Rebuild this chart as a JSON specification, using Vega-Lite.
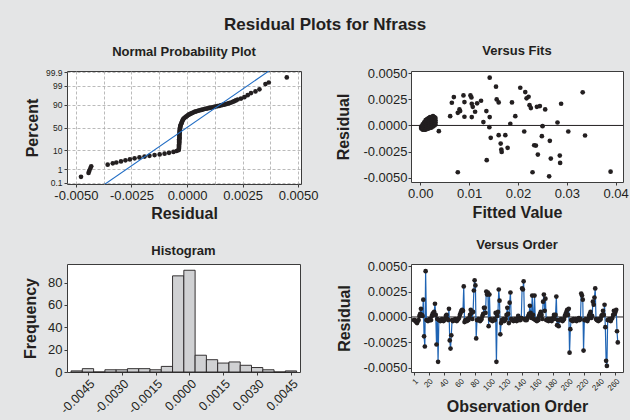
{
  "$schema": "https://vega.github.io/schema/vega-lite/v6.json",
  "background": "#e4e5e6",
  "padding": {"left": 21, "top": 15, "right": 7, "bottom": 5},
  "title": {"text": "Residual Plots for Nfrass", "fontSize": 17, "fontWeight": "bold", "font": "Liberation Sans", "color": "#231f20", "anchor": "middle", "offset": -2, "baseline": "alphabetic"},
  "datasets": {
    "npp": [
      {"r": -0.00477, "z": -2.75}, {"r": -0.00443, "z": -2.53}, {"r": -0.0044, "z": -2.42}, {"r": -0.00435, "z": -2.29}, {"r": -0.00431, "z": -2.16},
      {"r": -0.00357, "z": -2.07}, {"r": -0.00334, "z": -2.0}, {"r": -0.00318, "z": -1.95}, {"r": -0.00297, "z": -1.89}, {"r": -0.00277, "z": -1.83},
      {"r": -0.00257, "z": -1.78}, {"r": -0.00236, "z": -1.72}, {"r": -0.00214, "z": -1.67}, {"r": -0.00191, "z": -1.62}, {"r": -0.00169, "z": -1.58},
      {"r": -0.00146, "z": -1.54}, {"r": -0.00123, "z": -1.5}, {"r": -0.00101, "z": -1.46}, {"r": -0.00081, "z": -1.41}, {"r": -0.00061, "z": -1.36},
      {"r": -0.00047, "z": -1.31},
      {"r": -0.00037, "z": -1.26}, {"r": -0.00037, "z": -1.2}, {"r": -0.00036, "z": -1.14}, {"r": -0.00036, "z": -1.08}, {"r": -0.00036, "z": -1.02},
      {"r": -0.00036, "z": -0.96}, {"r": -0.00035, "z": -0.9}, {"r": -0.00035, "z": -0.84}, {"r": -0.00035, "z": -0.78}, {"r": -0.00035, "z": -0.72},
      {"r": -0.00035, "z": -0.66}, {"r": -0.00034, "z": -0.6}, {"r": -0.00034, "z": -0.54}, {"r": -0.00034, "z": -0.48}, {"r": -0.00034, "z": -0.42},
      {"r": -0.00034, "z": -0.36}, {"r": -0.00033, "z": -0.3}, {"r": -0.00033, "z": -0.24}, {"r": -0.00033, "z": -0.18}, {"r": -0.00032, "z": -0.12},
      {"r": -0.00032, "z": -0.06}, {"r": -0.00031, "z": 0.0}, {"r": -0.0003, "z": 0.06},
      {"r": -0.00029, "z": 0.12}, {"r": -0.00027, "z": 0.18}, {"r": -0.00025, "z": 0.24}, {"r": -0.00023, "z": 0.3}, {"r": -0.00021, "z": 0.36},
      {"r": -0.00019, "z": 0.42}, {"r": -0.00016, "z": 0.48}, {"r": -0.00012, "z": 0.53}, {"r": -0.00008, "z": 0.57}, {"r": -0.00004, "z": 0.61},
      {"r": 0.00001, "z": 0.65}, {"r": 0.00005, "z": 0.69}, {"r": 0.0001, "z": 0.73}, {"r": 0.00015, "z": 0.76}, {"r": 0.0002, "z": 0.79},
      {"r": 0.00025, "z": 0.82}, {"r": 0.0003, "z": 0.85}, {"r": 0.00036, "z": 0.88}, {"r": 0.00042, "z": 0.9}, {"r": 0.00049, "z": 0.93},
      {"r": 0.00056, "z": 0.95}, {"r": 0.00064, "z": 0.98}, {"r": 0.00071, "z": 1.0}, {"r": 0.00078, "z": 1.03}, {"r": 0.00086, "z": 1.05},
      {"r": 0.00094, "z": 1.07}, {"r": 0.00101, "z": 1.09}, {"r": 0.00108, "z": 1.11}, {"r": 0.00115, "z": 1.13}, {"r": 0.00122, "z": 1.15},
      {"r": 0.00129, "z": 1.17}, {"r": 0.00137, "z": 1.19}, {"r": 0.00145, "z": 1.21}, {"r": 0.00152, "z": 1.23}, {"r": 0.0016, "z": 1.26},
      {"r": 0.00168, "z": 1.28}, {"r": 0.00175, "z": 1.3}, {"r": 0.00183, "z": 1.33}, {"r": 0.0019, "z": 1.36}, {"r": 0.00198, "z": 1.39},
      {"r": 0.00206, "z": 1.43}, {"r": 0.00213, "z": 1.47}, {"r": 0.0022, "z": 1.51}, {"r": 0.00228, "z": 1.56}, {"r": 0.00243, "z": 1.61},
      {"r": 0.00258, "z": 1.69}, {"r": 0.00273, "z": 1.8}, {"r": 0.00288, "z": 1.92}, {"r": 0.00308, "z": 2.01}, {"r": 0.00326, "z": 2.13},
      {"r": 0.00353, "z": 2.42}, {"r": 0.00368, "z": 2.51}, {"r": 0.00449, "z": 2.79}
    ],
    "nline": [{"r": -0.00386, "z": -3.3}, {"r": 0.00386, "z": 3.3}],
    "fits": [
      {"f": 0.0002, "r": -0.0003}, {"f": 0.0002, "r": -0.0002}, {"f": 0.0002, "r": -0.0001},
      {"f": 0.0005, "r": -0.0004}, {"f": 0.0005, "r": -0.0003}, {"f": 0.0005, "r": -0.0002}, {"f": 0.0005, "r": 0.0}, {"f": 0.0005, "r": 0.0001},
      {"f": 0.0008, "r": -0.0004}, {"f": 0.0008, "r": -0.0002}, {"f": 0.0008, "r": 0.0}, {"f": 0.0008, "r": 0.0002}, {"f": 0.0008, "r": 0.0003},
      {"f": 0.0011, "r": -0.0004}, {"f": 0.0011, "r": -0.0002}, {"f": 0.0011, "r": 0.0}, {"f": 0.0011, "r": 0.0002}, {"f": 0.0011, "r": 0.0004}, {"f": 0.0011, "r": 0.0005},
      {"f": 0.0014, "r": -0.0003}, {"f": 0.0014, "r": -0.0001}, {"f": 0.0014, "r": 0.0001}, {"f": 0.0014, "r": 0.0003}, {"f": 0.0014, "r": 0.0005}, {"f": 0.0014, "r": 0.0006},
      {"f": 0.0017, "r": -0.0003}, {"f": 0.0017, "r": -0.0001}, {"f": 0.0017, "r": 0.0001}, {"f": 0.0017, "r": 0.0003}, {"f": 0.0017, "r": 0.0005}, {"f": 0.0017, "r": 0.0007},
      {"f": 0.002, "r": -0.0002}, {"f": 0.002, "r": 0.0}, {"f": 0.002, "r": 0.0002}, {"f": 0.002, "r": 0.0004}, {"f": 0.002, "r": 0.0006}, {"f": 0.002, "r": 0.0008},
      {"f": 0.0023, "r": -0.0002}, {"f": 0.0023, "r": 0.0}, {"f": 0.0023, "r": 0.0002}, {"f": 0.0023, "r": 0.0004}, {"f": 0.0023, "r": 0.0006}, {"f": 0.0023, "r": 0.0008},
      {"f": 0.0026, "r": -0.0001}, {"f": 0.0026, "r": 0.0001}, {"f": 0.0026, "r": 0.0003}, {"f": 0.0026, "r": 0.0005}, {"f": 0.0026, "r": 0.0007}, {"f": 0.0026, "r": 0.0009},
      {"f": 0.0029, "r": 0.0}, {"f": 0.0029, "r": 0.0002}, {"f": 0.0029, "r": 0.0004}, {"f": 0.0029, "r": 0.0006}, {"f": 0.0029, "r": 0.0008},
      {"f": 0.0031, "r": 0.0001}, {"f": 0.0031, "r": 0.0003}, {"f": 0.0031, "r": 0.0005}, {"f": 0.0031, "r": 0.0007},
      {"f": 0.0038, "r": -0.00055},
      {"f": 0.00612, "r": 0.00089}, {"f": 0.00646, "r": 0.00217}, {"f": 0.00687, "r": 0.00271}, {"f": 0.00768, "r": 0.00121}, {"f": 0.00802, "r": 0.00153},
      {"f": 0.00816, "r": 0.00137}, {"f": 0.00768, "r": -0.00447}, {"f": 0.00884, "r": 0.00287}, {"f": 0.00904, "r": 0.00223}, {"f": 0.00904, "r": 0.00083},
      {"f": 0.01027, "r": 0.00287}, {"f": 0.01047, "r": 0.00268}, {"f": 0.01054, "r": 0.00207}, {"f": 0.01074, "r": 0.00178}, {"f": 0.01054, "r": 0.0008},
      {"f": 0.01122, "r": 0.00131}, {"f": 0.01163, "r": 0.00211}, {"f": 0.01244, "r": 0.00236}, {"f": 0.01353, "r": 0.00137}, {"f": 0.01292, "r": 0.00032},
      {"f": 0.01421, "r": 0.0008}, {"f": 0.01414, "r": -0.00016}, {"f": 0.01421, "r": 0.00456}, {"f": 0.0136, "r": -0.00332}, {"f": 0.01442, "r": -0.00118},
      {"f": 0.0155, "r": 0.0037}, {"f": 0.01564, "r": 0.00249}, {"f": 0.01605, "r": 0.0022}, {"f": 0.01605, "r": -0.00093}, {"f": 0.01646, "r": -0.00173},
      {"f": 0.01659, "r": -0.0023}, {"f": 0.01666, "r": -0.00253}, {"f": 0.01741, "r": -0.00093}, {"f": 0.01788, "r": -0.00214}, {"f": 0.01843, "r": 0.00016},
      {"f": 0.01877, "r": 0.0022}, {"f": 0.01945, "r": 0.00089}, {"f": 0.02047, "r": 0.0036}, {"f": 0.02128, "r": -0.00058}, {"f": 0.02149, "r": 0.00319},
      {"f": 0.02176, "r": 0.00259}, {"f": 0.02217, "r": 0.00274}, {"f": 0.02237, "r": 0.00194}, {"f": 0.02264, "r": 0.00166}, {"f": 0.02332, "r": -0.00189},
      {"f": 0.02367, "r": -0.00192}, {"f": 0.02298, "r": -0.00447}, {"f": 0.02407, "r": -0.00278}, {"f": 0.02387, "r": 0.00178}, {"f": 0.02448, "r": 0.00185},
      {"f": 0.02503, "r": -0.00007}, {"f": 0.02489, "r": -0.00102}, {"f": 0.02557, "r": 0.00153}, {"f": 0.02652, "r": -0.00147}, {"f": 0.02672, "r": -0.00316},
      {"f": 0.02638, "r": -0.00486}, {"f": 0.02809, "r": 0.00028}, {"f": 0.02856, "r": -0.00288}, {"f": 0.02863, "r": -0.00358}, {"f": 0.02883, "r": 0.00207},
      {"f": 0.0303, "r": -0.00058}, {"f": 0.03325, "r": 0.00316}, {"f": 0.03373, "r": -0.00096}, {"f": 0.03896, "r": -0.00441}
    ],
    "hist": [
      {"lo": -0.00525, "hi": -0.00475, "n": 1}, {"lo": -0.00475, "hi": -0.00425, "n": 3}, {"lo": -0.00425, "hi": -0.00375, "n": 0},
      {"lo": -0.00375, "hi": -0.00325, "n": 2}, {"lo": -0.00325, "hi": -0.00275, "n": 2}, {"lo": -0.00275, "hi": -0.00225, "n": 3},
      {"lo": -0.00225, "hi": -0.00175, "n": 3}, {"lo": -0.00175, "hi": -0.00125, "n": 2}, {"lo": -0.00125, "hi": -0.00075, "n": 5},
      {"lo": -0.00075, "hi": -0.00025, "n": 86}, {"lo": -0.00025, "hi": 0.00025, "n": 91}, {"lo": 0.00025, "hi": 0.00075, "n": 15},
      {"lo": 0.00075, "hi": 0.00125, "n": 11}, {"lo": 0.00125, "hi": 0.00175, "n": 8}, {"lo": 0.00175, "hi": 0.00225, "n": 9},
      {"lo": 0.00225, "hi": 0.00275, "n": 6}, {"lo": 0.00275, "hi": 0.00325, "n": 4}, {"lo": 0.00325, "hi": 0.00375, "n": 2},
      {"lo": 0.00375, "hi": 0.00425, "n": 0}, {"lo": 0.00425, "hi": 0.00475, "n": 1}
    ],
    "order": [
      {"o": 1, "r": -0.0003}, {"o": 2, "r": -0.0003}, {"o": 3, "r": -0.0004}, {"o": 4, "r": -0.0005}, {"o": 5, "r": -0.0006},
      {"o": 6, "r": -0.0004}, {"o": 7, "r": -0.0003}, {"o": 8, "r": 0.0001}, {"o": 9, "r": 0.0003}, {"o": 10, "r": 0.0008},
      {"o": 11, "r": 0.0002}, {"o": 12, "r": 0.0001}, {"o": 13, "r": 0.0017}, {"o": 14, "r": -0.0019}, {"o": 15, "r": -0.0029},
      {"o": 16, "r": 0.0045}, {"o": 17, "r": -0.0003}, {"o": 18, "r": -0.0003}, {"o": 19, "r": -0.0004}, {"o": 20, "r": -0.0003},
      {"o": 21, "r": -0.0002}, {"o": 22, "r": -0.0003}, {"o": 23, "r": -0.0003}, {"o": 24, "r": 0.0001}, {"o": 25, "r": 0.0003},
      {"o": 26, "r": 0.0004}, {"o": 27, "r": 0.0005}, {"o": 28, "r": 0.0013}, {"o": 29, "r": 0.0002}, {"o": 30, "r": -0.0027},
      {"o": 31, "r": -0.0002}, {"o": 32, "r": -0.0044}, {"o": 33, "r": -0.0003}, {"o": 34, "r": -0.0003}, {"o": 35, "r": -0.0004},
      {"o": 36, "r": -0.0003}, {"o": 37, "r": -0.0002}, {"o": 38, "r": -0.0003}, {"o": 39, "r": -0.0004}, {"o": 40, "r": -0.0003},
      {"o": 41, "r": -0.0002}, {"o": 42, "r": 0.0001}, {"o": 43, "r": 0.0002}, {"o": 44, "r": -0.0002}, {"o": 45, "r": -0.0003},
      {"o": 46, "r": 0.0008}, {"o": 47, "r": -0.0023}, {"o": 48, "r": -0.0031}, {"o": 49, "r": -0.0018}, {"o": 50, "r": -0.0003},
      {"o": 51, "r": -0.0004}, {"o": 52, "r": -0.0003}, {"o": 53, "r": -0.0003}, {"o": 54, "r": -0.0002}, {"o": 55, "r": -0.0003},
      {"o": 56, "r": -0.0004}, {"o": 57, "r": -0.0003}, {"o": 58, "r": -0.0002}, {"o": 59, "r": -0.0001}, {"o": 60, "r": 0.0002},
      {"o": 61, "r": 0.0004}, {"o": 62, "r": 0.0006}, {"o": 63, "r": 0.0007}, {"o": 64, "r": 0.0006}, {"o": 65, "r": 0.003},
      {"o": 66, "r": -0.0005}, {"o": 67, "r": -0.0003}, {"o": 68, "r": -0.0003}, {"o": 69, "r": -0.0004}, {"o": 70, "r": -0.0002},
      {"o": 71, "r": -0.0003}, {"o": 72, "r": -0.0001}, {"o": 73, "r": 0.0002}, {"o": 74, "r": 0.0007}, {"o": 75, "r": 0.0004},
      {"o": 76, "r": -0.0002}, {"o": 77, "r": 0.0005}, {"o": 78, "r": 0.0026}, {"o": 79, "r": 0.0036}, {"o": 80, "r": 0.0031},
      {"o": 81, "r": -0.0021}, {"o": 82, "r": -0.0003}, {"o": 83, "r": -0.0003}, {"o": 84, "r": -0.0002}, {"o": 85, "r": -0.0003},
      {"o": 86, "r": -0.0004}, {"o": 87, "r": -0.0003}, {"o": 88, "r": -0.0002}, {"o": 89, "r": 0.0001}, {"o": 90, "r": 0.0003},
      {"o": 91, "r": 0.0009}, {"o": 92, "r": 0.0009}, {"o": 93, "r": 0.0004}, {"o": 94, "r": 0.0025}, {"o": 95, "r": 0.0022},
      {"o": 96, "r": 0.0024}, {"o": 97, "r": -0.0009}, {"o": 98, "r": 0.0022}, {"o": 99, "r": -0.0002}, {"o": 100, "r": -0.0003},
      {"o": 101, "r": -0.0003}, {"o": 102, "r": -0.0004}, {"o": 103, "r": -0.0003}, {"o": 104, "r": -0.0002}, {"o": 105, "r": -0.0003},
      {"o": 106, "r": 0.0004}, {"o": 107, "r": -0.0044}, {"o": 108, "r": 0.0001}, {"o": 109, "r": 0.0005}, {"o": 110, "r": 0.0027},
      {"o": 111, "r": 0.0016}, {"o": 112, "r": -0.0017}, {"o": 113, "r": -0.0006}, {"o": 114, "r": -0.0003}, {"o": 115, "r": -0.0003},
      {"o": 116, "r": -0.0002}, {"o": 117, "r": -0.0004}, {"o": 118, "r": -0.0003}, {"o": 119, "r": -0.0002}, {"o": 120, "r": 0.0002},
      {"o": 121, "r": 0.0009}, {"o": 122, "r": 0.0003}, {"o": 123, "r": -0.0006}, {"o": 124, "r": 0.0014}, {"o": 125, "r": 0.0024},
      {"o": 126, "r": -0.0002}, {"o": 127, "r": -0.0003}, {"o": 128, "r": -0.0003}, {"o": 129, "r": -0.0004}, {"o": 130, "r": -0.0003},
      {"o": 131, "r": -0.0002}, {"o": 132, "r": -0.0003}, {"o": 133, "r": -0.0004}, {"o": 134, "r": -0.0002}, {"o": 135, "r": 0.0001},
      {"o": 136, "r": -0.0003}, {"o": 137, "r": -0.0002}, {"o": 138, "r": -0.0003}, {"o": 139, "r": -0.0001}, {"o": 140, "r": 0.0028},
      {"o": 141, "r": 0.0027}, {"o": 142, "r": 0.0035}, {"o": 143, "r": -0.0002}, {"o": 144, "r": -0.0003}, {"o": 145, "r": -0.0002},
      {"o": 146, "r": -0.0003}, {"o": 147, "r": -0.0001}, {"o": 148, "r": 0.0001}, {"o": 149, "r": 0.0003}, {"o": 150, "r": 0.0011},
      {"o": 151, "r": 0.0004}, {"o": 152, "r": -0.0001}, {"o": 153, "r": 0.0021}, {"o": 154, "r": 0.0002}, {"o": 155, "r": -0.0002},
      {"o": 156, "r": 0.0021}, {"o": 157, "r": -0.0003}, {"o": 158, "r": -0.0003}, {"o": 159, "r": -0.0004}, {"o": 160, "r": -0.0002},
      {"o": 161, "r": -0.0003}, {"o": 162, "r": 0.0001}, {"o": 163, "r": 0.0003}, {"o": 164, "r": 0.0005}, {"o": 165, "r": 0.0002},
      {"o": 166, "r": -0.0002}, {"o": 167, "r": 0.0015}, {"o": 168, "r": 0.0022}, {"o": 169, "r": 0.0006}, {"o": 170, "r": 0.0018},
      {"o": 171, "r": -0.0003}, {"o": 172, "r": -0.0003}, {"o": 173, "r": -0.0002}, {"o": 174, "r": -0.0004}, {"o": 175, "r": -0.0003},
      {"o": 176, "r": -0.0002}, {"o": 177, "r": -0.0003}, {"o": 178, "r": -0.0004}, {"o": 179, "r": -0.0002}, {"o": 180, "r": -0.0001},
      {"o": 181, "r": 0.0002}, {"o": 182, "r": -0.0002}, {"o": 183, "r": 0.0002}, {"o": 184, "r": 0.002}, {"o": 185, "r": -0.0008},
      {"o": 186, "r": -0.0003}, {"o": 187, "r": -0.0009}, {"o": 188, "r": -0.0003}, {"o": 189, "r": -0.0003}, {"o": 190, "r": -0.0002},
      {"o": 191, "r": -0.0003}, {"o": 192, "r": -0.0004}, {"o": 193, "r": -0.0003}, {"o": 194, "r": -0.0002}, {"o": 195, "r": 0.0001},
      {"o": 196, "r": 0.0003}, {"o": 197, "r": 0.0005}, {"o": 198, "r": 0.0007}, {"o": 199, "r": 0.0002}, {"o": 200, "r": 0.0008},
      {"o": 201, "r": -0.0035}, {"o": 202, "r": -0.0012}, {"o": 203, "r": -0.0003}, {"o": 204, "r": -0.0003}, {"o": 205, "r": -0.0004},
      {"o": 206, "r": -0.0002}, {"o": 207, "r": -0.0003}, {"o": 208, "r": -0.0003}, {"o": 209, "r": -0.0002}, {"o": 210, "r": -0.0004},
      {"o": 211, "r": -0.0003}, {"o": 212, "r": -0.0002}, {"o": 213, "r": -0.0001}, {"o": 214, "r": -0.0003}, {"o": 215, "r": -0.0002},
      {"o": 216, "r": 0.0023}, {"o": 217, "r": 0.0021}, {"o": 218, "r": 0.0017}, {"o": 219, "r": -0.0033}, {"o": 220, "r": -0.0003},
      {"o": 221, "r": -0.0003}, {"o": 222, "r": -0.0002}, {"o": 223, "r": -0.0003}, {"o": 224, "r": -0.0004}, {"o": 225, "r": -0.0002},
      {"o": 226, "r": 0.0001}, {"o": 227, "r": 0.0003}, {"o": 228, "r": 0.0005}, {"o": 229, "r": -0.0001}, {"o": 230, "r": 0.0001},
      {"o": 231, "r": 0.0015}, {"o": 232, "r": 0.0012}, {"o": 233, "r": 0.0019}, {"o": 234, "r": 0.0028}, {"o": 235, "r": -0.0002},
      {"o": 236, "r": -0.0003}, {"o": 237, "r": -0.0003}, {"o": 238, "r": -0.0004}, {"o": 239, "r": -0.0002}, {"o": 240, "r": -0.0003},
      {"o": 241, "r": -0.0002}, {"o": 242, "r": 0.0001}, {"o": 243, "r": 0.0002}, {"o": 244, "r": 0.0006}, {"o": 245, "r": 0.0002},
      {"o": 246, "r": 0.0012}, {"o": 247, "r": -0.001}, {"o": 248, "r": -0.0043}, {"o": 249, "r": -0.0048}, {"o": 250, "r": -0.0003},
      {"o": 251, "r": -0.0003}, {"o": 252, "r": -0.0002}, {"o": 253, "r": -0.0003}, {"o": 254, "r": -0.0004}, {"o": 255, "r": -0.0002},
      {"o": 256, "r": -0.0001}, {"o": 257, "r": 0.0002}, {"o": 258, "r": 0.0006}, {"o": 259, "r": 0.0003}, {"o": 260, "r": 0.0005},
      {"o": 261, "r": 0.0007}, {"o": 262, "r": -0.0014}, {"o": 263, "r": -0.0025}
    ],
    "zero": [{"r": 0}]
  },
  "columns": 2,
  "bounds": "flush",
  "spacing": {"row": 80, "column": 110},
  "concat": [
    {
      "width": 234, "height": 113,
      "title": {"text": "Normal Probability Plot", "offset": 9, "frame": "group"},
      "layer": [
        {
          "data": {"name": "npp"},
          "mark": {"type": "circle", "size": 22, "color": "#231f20", "opacity": 1},
          "encoding": {
            "x": {"field": "r", "type": "quantitative", "scale": {"domain": [-0.0054, 0.00513], "nice": false, "zero": false},
              "axis": {"title": "Residual", "titleY": 34, "titleBaseline": "alphabetic", "tickCount": 40,
                "values": [-0.005, -0.00375, -0.0025, -0.00125, 0, 0.00125, 0.0025, 0.00375, 0.005],
                "labelExpr": "abs(datum.value*400-round(datum.value*400))<0.01 ? (datum.value<0?'-':'') + format(abs(datum.value),'.4f') : ''",
                "tickOpacity": {"condition": {"test": "abs(datum.value*400-round(datum.value*400))<0.01", "value": 1}, "value": 0},
                "grid": true, "gridDash": [3, 2], "gridColor": "#a9a9a9", "gridWidth": 0.8}},
            "y": {"field": "z", "type": "quantitative", "scale": {"domain": [-3.15, 3.15], "nice": false, "zero": false},
              "axis": {"title": "Percent", "titleX": -30, "titleBaseline": "alphabetic", "labelFontSize": 8.5, "tickCount": 40,
                "values": [-3.09, -2.326, -1.2816, 0, 1.2816, 2.326, 3.09],
                "labelExpr": "datum.value < -3 ? '0.1' : datum.value < -2 ? '1' : datum.value < -1 ? '10' : datum.value < 1 ? '50' : datum.value < 2 ? '90' : datum.value < 3 ? '99' : '99.9'",
                "grid": true, "gridDash": [3, 2], "gridColor": "#a9a9a9", "gridWidth": 0.8}}
          }
        },
        {
          "data": {"name": "nline"},
          "mark": {"type": "line", "color": "#1f6cc4", "strokeWidth": 1.1, "clip": true},
          "encoding": {
            "x": {"field": "r", "type": "quantitative"},
            "y": {"field": "z", "type": "quantitative"}
          }
        }
      ]
    },
    {
      "width": 212, "height": 111,
      "title": {"text": "Versus Fits", "offset": 9, "frame": "group"},
      "layer": [
        {
          "data": {"name": "zero"},
          "mark": {"type": "rule", "color": "#231f20", "strokeWidth": 1},
          "encoding": {"y": {"field": "r", "type": "quantitative"}}
        },
        {
          "data": {"name": "fits"},
          "mark": {"type": "circle", "size": 22, "color": "#231f20", "opacity": 1},
          "encoding": {
            "x": {"field": "f", "type": "quantitative", "scale": {"domain": [-0.0019, 0.0415], "nice": false, "zero": false},
              "axis": {"title": "Fitted Value", "titleY": 35.5, "titleBaseline": "alphabetic", "tickCount": 40, "values": [0, 0.01, 0.02, 0.03, 0.04], "format": ".2f"}},
            "y": {"field": "r", "type": "quantitative", "scale": {"domain": [-0.0054, 0.0052], "nice": false, "zero": false},
              "axis": {"title": "Residual", "titleX": -62.5, "titleBaseline": "alphabetic", "labelPadding": 1, "tickCount": 40,
                "values": [-0.005, -0.0025, 0, 0.0025, 0.005],
                "labelExpr": "(datum.value<0?'-':'') + format(abs(datum.value),'.4f')"}}
          }
        }
      ]
    },
    {
      "width": 233, "height": 108,
      "title": {"text": "Histogram", "offset": 6.5, "frame": "group"},
      "data": {"name": "hist"},
      "mark": {"type": "bar", "fill": "#d0d1d3", "stroke": "#231f20", "strokeWidth": 0.9},
      "encoding": {
        "x": {"field": "lo", "type": "quantitative", "scale": {"domain": [-0.00543, 0.0049], "nice": false, "zero": false},
          "axis": {"title": null, "tickCount": 40, "values": [-0.0045, -0.003, -0.0015, 0, 0.0015, 0.003, 0.0045], "labelAngle": -45, "labelFontSize": 12.5,
            "labelExpr": "(datum.value<0?'-':'') + format(abs(datum.value),'.4f')"}},
        "x2": {"field": "hi"},
        "y": {"field": "n", "type": "quantitative", "scale": {"domain": [0, 96.6], "nice": false},
          "axis": {"title": "Frequency", "titleX": -32, "titleBaseline": "alphabetic", "tickCount": 40, "values": [0, 20, 40, 60, 80]}},
        "y2": {"datum": 0}
      }
    },
    {
      "width": 212, "height": 108,
      "title": {"text": "Versus Order", "offset": 8, "frame": "group"},
      "layer": [
        {
          "data": {"name": "zero"},
          "mark": {"type": "rule", "color": "#231f20", "strokeWidth": 1},
          "encoding": {"y": {"field": "r", "type": "quantitative"}}
        },
        {
          "data": {"name": "order"},
          "mark": {"type": "line", "color": "#1f64b4", "strokeWidth": 1.2},
          "encoding": {
            "x": {"field": "o", "type": "quantitative", "scale": {"domain": [-2.8, 269.7], "nice": false, "zero": false},
              "axis": {"title": "Observation Order", "titleY": 39, "titleBaseline": "alphabetic", "labelAngle": -45, "labelFontSize": 8, "tickCount": 40,
                "values": [1, 20, 40, 60, 80, 100, 120, 140, 160, 180, 200, 220, 240, 260]}},
            "y": {"field": "r", "type": "quantitative", "scale": {"domain": [-0.0054, 0.0052], "nice": false, "zero": false},
              "axis": {"title": "Residual", "titleX": -61.5, "titleBaseline": "alphabetic", "labelPadding": 1, "tickCount": 40,
                "values": [-0.005, -0.0025, 0, 0.0025, 0.005],
                "labelExpr": "(datum.value<0?'-':'') + format(abs(datum.value),'.4f')"}}
          }
        },
        {
          "data": {"name": "order"},
          "mark": {"type": "circle", "size": 22, "color": "#231f20", "opacity": 1},
          "encoding": {
            "x": {"field": "o", "type": "quantitative"},
            "y": {"field": "r", "type": "quantitative"}
          }
        }
      ]
    }
  ],
  "config": {
    "font": "Liberation Sans",
    "view": {"fill": "white", "stroke": "#3c3c3c", "strokeWidth": 1},
    "axis": {"labelFont": "Liberation Sans", "labelFontSize": 13, "labelColor": "#231f20", "labelOverlap": false, "titleFont": "Liberation Sans", "titleFontSize": 16, "titleFontWeight": "bold", "titleColor": "#231f20", "domain": false, "grid": false, "tickColor": "#3c3c3c", "tickSize": 3, "labelPadding": 2},
    "title": {"font": "Liberation Sans", "fontSize": 13, "fontWeight": "bold", "color": "#231f20", "baseline": "alphabetic"}
  }
}
